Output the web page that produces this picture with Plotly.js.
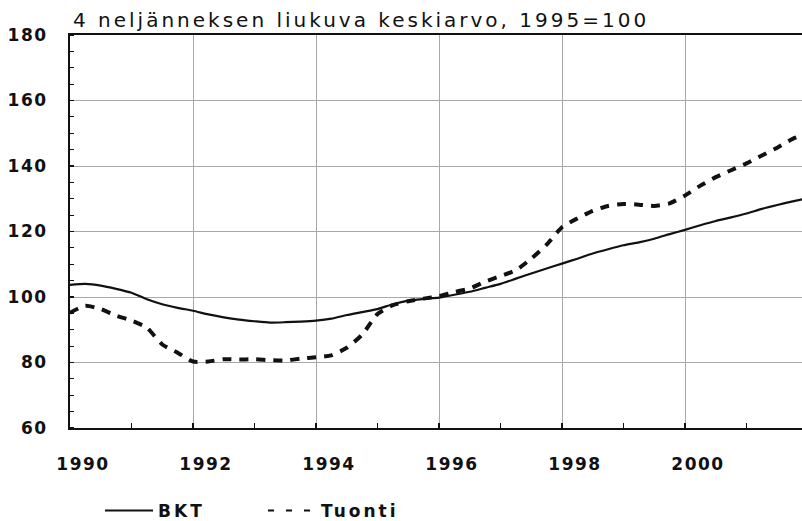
<!DOCTYPE html>
<html>
<head>
<meta charset="utf-8">
<script src="https://cdn.plot.ly/plotly-3.0.1.min.js"></script>
<style>
html,body{margin:0;padding:0;background:#fff;overflow:hidden;}
#chart{width:802px;height:521px;}
.gtitle{letter-spacing:3px;}
.xtick text,.ytick text{letter-spacing:1.5px;}
.legendtext{letter-spacing:3px;}
</style>
</head>
<body>
<div id="chart"></div>
<script>
// Quarterly time points (decimal years)
const quarters = [
  1990.00,1990.25,1990.50,1990.75,1991.00,1991.25,1991.50,1991.75,
  1992.00,1992.25,1992.50,1992.75,1993.00,1993.25,1993.50,1993.75,
  1994.00,1994.25,1994.50,1994.75,1995.00,1995.25,1995.50,1995.75,
  1996.00,1996.25,1996.50,1996.75,1997.00,1997.25,1997.50,1997.75,
  1998.00,1998.25,1998.50,1998.75,1999.00,1999.25,1999.50,1999.75,
  2000.00,2000.25,2000.50,2000.75,2001.00,2001.25,2001.50,2001.75,
  2002.00
];
// BKT (GDP), 4-quarter moving average, 1995=100
const bkt = [
  103.7,104.0,103.5,102.5,101.3,99.3,97.8,96.7,
  95.8,94.7,93.8,93.1,92.6,92.2,92.3,92.5,
  92.8,93.4,94.5,95.4,96.3,97.8,98.9,99.4,
  99.8,100.7,101.6,102.8,104.0,105.6,107.2,108.7,
  110.2,111.7,113.3,114.6,115.8,116.7,117.8,119.2,
  120.5,121.9,123.2,124.3,125.5,126.9,128.1,129.2,
  130.2
];
// Tuonti (imports), 4-quarter moving average, 1995=100
const tuonti = [
  95.2,97.3,96.3,94.3,92.8,90.6,85.5,83.0,
  80.3,80.3,81.0,80.9,81.0,80.7,80.6,81.2,
  81.6,82.2,84.5,88.5,94.8,97.5,98.7,99.5,
  100.3,101.5,102.6,104.7,106.4,108.2,111.7,116.0,
  121.3,124.0,126.3,127.8,128.4,128.2,127.8,128.6,
  131.0,134.0,136.6,138.7,140.8,143.2,145.6,148.3,
  150.0
];
const xTickVals = [1990,1992,1994,1996,1998,2000];
const xTickText = ['1990','1992','1994','1996','1998','2000'];
const yTickVals = [60,80,100,120,140,160,180];
const seriesNames = ['BKT','Tuonti'];
const titleText = '4 neljänneksen liukuva keskiarvo, 1995=100';

const FONT = 'DejaVu Sans, Arial, sans-serif';

const traces = [
  {x: quarters, y: bkt, name: seriesNames[0], type: 'scatter', mode: 'lines', showlegend: false,
   line: {color: '#111', width: 2.2, shape: 'spline', smoothing: 0.6}},
  {x: quarters, y: tuonti, name: seriesNames[1], type: 'scatter', mode: 'lines', showlegend: false,
   line: {color: '#111', width: 4, dash: '9px,8px', shape: 'spline', smoothing: 0.6}},
  // legend samples (thin lines, as in the printed key)
  {x: [null], y: [null], name: seriesNames[0], type: 'scatter', mode: 'lines',
   line: {color: '#111', width: 2}},
  {x: [null], y: [null], name: seriesNames[1], type: 'scatter', mode: 'lines',
   line: {color: '#111', width: 2, dash: '6px,12px'}}
];

const layout = {
  width: 802, height: 521,
  margin: {l: 70, r: 0, t: 35, b: 93},
  paper_bgcolor: '#fff', plot_bgcolor: '#fff',
  showlegend: true,
  title: {text: titleText, x: 73/802, xanchor: 'left', xref: 'container',
          y: 1 - 20/521, yanchor: 'middle', yref: 'container',
          font: {family: FONT, size: 20, color: '#111'}},
  xaxis: {
    range: [1990, 1990 + 732/61.5],
    tickmode: 'array', tickvals: xTickVals, ticktext: xTickText,
    ticks: 'inside', ticklen: 5, tickcolor: '#111', tickwidth: 1.5,
    ticklabelshift: 13, ticklabelstandoff: 20,
    showgrid: true, gridcolor: '#a8a8a8', gridwidth: 1,
    showline: true, linecolor: '#111', linewidth: 2, mirror: true,
    zeroline: false,
    minor: {dtick: 1, tick0: 1990, ticks: 'inside', ticklen: 5, tickcolor: '#111', tickwidth: 1.5, showgrid: false},
    tickfont: {family: FONT, size: 17, color: '#111', weight: 'bold'}
  },
  yaxis: {
    range: [60, 180],
    tickmode: 'array', tickvals: yTickVals,
    ticks: '', ticklabelstandoff: 17,
    showgrid: true, gridcolor: '#a8a8a8', gridwidth: 1,
    showline: true, linecolor: '#111', linewidth: 2, mirror: false,
    zeroline: false,
    minor: {dtick: 5, tick0: 60, ticks: 'inside', ticklen: 4, tickcolor: '#111', tickwidth: 1.2, showgrid: false},
    tickfont: {family: FONT, size: 17, color: '#111', weight: 'bold'}
  },
  legend: {
    orientation: 'h', xref: 'container', yref: 'container',
    x: 100/802, xanchor: 'left', y: 1 - 511/521, yanchor: 'middle',
    font: {family: FONT, size: 17, color: '#111', weight: 'bold'},
    itemwidth: 48, entrywidth: 100, bgcolor: 'rgba(0,0,0,0)'
  }
};

Plotly.newPlot('chart', traces, layout, {staticPlot: true, displayModeBar: false});
</script>
</body>
</html>
